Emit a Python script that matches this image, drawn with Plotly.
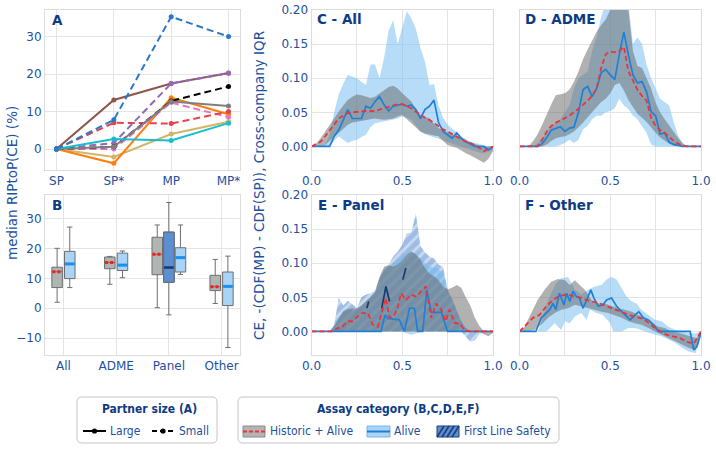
import plotly.graph_objects as go

W, H = 716, 453
OX, OY = 0, 0
FW, FH = W - OX, H - OY
FONT = "DejaVu Sans"
LFONT = "DejaVu Sans Condensed, Liberation Sans Narrow, DejaVu Sans"
TICK = "#22509e"
NAVY = "#0d3b85"

# ---------------- Panel A data ----------------
stages = ["SP", "SP*", "MP", "MP*"]
a_large_brown = [0, 13.1, 17.5, 20.3]
a_large_gray = [0, 0.6, 12.7, 11.5]
a_large_orange = [0, -3.8, 13.7, 9.3]
a_large_tan = [0, -2.1, 4.0, 7.3]
a_large_cyan = [0, 2.7, 2.3, 6.9]
a_small_blue = [0, 7.8, 35.3, 30.0]
a_small_purple = [0, 1.6, 17.5, 20.2]
a_small_black = [0, 0.6, 12.8, 16.7]
a_small_red = [0, 7.0, 6.8, 10.0]
a_small_pink = [0, 0.0, 12.4, 8.5]

# ---------------- Panel B data ----------------
b_categories = ["All", "ADME", "Panel", "Other"]
b_hist_lo = [2.0, 8.0, 0.2, 1.6]
b_hist_q1 = [6.9, 13.2, 11.2, 5.9]
b_hist_med = [12.2, 15.3, 18.0, 7.2]
b_hist_q3 = [13.7, 17.1, 23.7, 11.0]
b_hist_hi = [20.0, 17.3, 27.8, 16.3]
b_alive_lo = [6.9, 10.2, 11.3, -13.1]
b_alive_q1 = [9.9, 12.6, 12.1, 0.9]
b_alive_med = [14.8, 14.4, 16.9, 7.3]
b_alive_q3 = [19.0, 18.4, 20.2, 12.1]
b_alive_hi = [27.1, 19.1, 27.8, 17.4]
b_fls_stats = [-2.2, 8.7, 13.6, 25.4, 35.3]  # Panel: lo, q1, med, q3, hi

# ---------------- Panels C-F data ----------------
x_grid = [0.0, 0.025, 0.05, 0.075, 0.1, 0.125, 0.15, 0.175, 0.2, 0.225, 0.25, 0.275,
          0.3, 0.325, 0.35, 0.375, 0.4, 0.425, 0.45, 0.475, 0.5, 0.525, 0.55, 0.575,
          0.6, 0.625, 0.65, 0.675, 0.7, 0.725, 0.75, 0.775, 0.8, 0.825, 0.85, 0.875,
          0.9, 0.925, 0.95, 0.975, 1.0]

c_hist_hi = [0, .004, .012, .022, .032, .042, .051, .060, .068, .073, .076, .075, .073, .071, .073, .078, .083, .087, .089, .085, .078, .072, .066, .055, .046, .044, .041, .033, .027, .024, .020, .017, .015, .012, .010, .006, .003, .001, 0, 0, 0]
c_hist_lo = [0, 0, 0, .002, .007, .013, .020, .026, .032, .035, .037, .038, .039, .040, .041, .040, .039, .040, .041, .044, .046, .040, .034, .028, .022, .019, .017, .016, .015, .008, .002, 0, -.002, -.006, -.010, -.013, -.017, -.020, -.024, -.018, -.007]
c_hist_med = [0, .003, .007, .015, .024, .033, .041, .045, .049, .050, .051, .051, .052, .052, .052, .054, .056, .058, .061, .062, .062, .059, .056, .051, .046, .042, .039, .034, .029, .025, .022, .018, .015, .011, .007, .005, .002, -.002, -.007, -.004, 0]
c_alive_hi = [0, 0, 0, .003, .017, .050, .076, .092, .105, .102, .100, .095, .090, .120, .120, .100, .130, .170, .185, .150, .175, .198, .188, .172, .145, .124, .090, .091, .060, .042, .032, .026, .020, .015, .011, .007, .005, .003, .001, 0, 0]
c_alive_lo = [0, 0, 0, 0, 0, .008, .015, .010, .005, .008, .010, .014, .017, .028, .034, .036, .037, .038, .039, .041, .044, .042, .039, .030, .022, .018, .015, .013, .012, .009, .007, .004, .002, 0, -.002, -.004, -.007, -.009, -.010, -.008, -.005]
c_alive_med = [0, 0, 0, 0, 0, .015, .024, .039, .054, .041, .041, .041, .059, .056, .066, .073, .061, .052, .059, .061, .062, .059, .061, .054, .041, .054, .059, .068, .035, .022, .017, .012, .020, .012, .007, .003, 0, 0, 0, -.005, 0]

d_hist_hi = [0, 0, 0, .008, .018, .032, .048, .062, .075, .077, .078, .083, .095, .110, .128, .142, .155, .168, .178, .186, .200, .210, .210, .210, .200, .140, .118, .115, .100, .085, .064, .050, .040, .030, .020, .012, .004, 0, 0, 0, 0]
d_hist_lo = [0, 0, 0, 0, 0, 0, .003, .008, .012, .014, .015, .018, .022, .028, .035, .043, .050, .058, .065, .070, .078, .090, .093, .082, .068, .058, .048, .042, .036, .028, .020, .013, .008, .004, .001, 0, 0, 0, 0, 0, 0]
d_hist_med = [0, 0, 0, 0, 0, .010, .022, .030, .035, .038, .041, .045, .050, .055, .061, .067, .074, .085, .115, .135, .139, .138, .140, .146, .110, .097, .083, .074, .067, .042, .030, .024, .020, .014, .008, .004, .001, 0, 0, 0, 0]
d_alive_hi = [0, 0, 0, 0, .005, .012, .020, .030, .035, .040, .050, .060, .085, .100, .105, .110, .140, .160, .190, .210, .210, .210, .210, .210, .210, .150, .160, .150, .120, .100, .085, .070, .065, .060, .035, .015, .005, 0, 0, 0, 0]
d_alive_lo = [0, 0, 0, 0, 0, 0, 0, 0, 0, .002, .005, .010, .005, .010, .025, .030, .040, .045, .045, .050, .052, .056, .070, .060, .055, .045, .040, .030, .020, .003, 0, 0, 0, 0, 0, 0, 0, 0, 0, 0, 0]
d_alive_med = [0, 0, 0, 0, 0, .004, .013, .024, .026, .029, .022, .027, .028, .050, .083, .088, .073, .085, .108, .113, .105, .098, .135, .168, .134, .105, .093, .095, .080, .051, .045, .018, .020, .006, .003, .001, 0, 0, 0, 0, 0]

e_fls_hi = [0, 0, 0, 0, 0, .010, .049, .038, .045, .040, .034, .050, .054, .056, .060, .078, .092, .098, .110, .117, .127, .144, .145, .173, .125, .116, .110, .107, .098, .094, .061, .048, .030, .015, .005, 0, 0, 0, 0, 0, 0]
e_fls_lo = [0, 0, 0, 0, 0, 0, 0, 0, 0, 0, 0, 0, 0, 0, 0, 0, 0, 0, 0, 0, 0, 0, 0, 0, 0, 0, 0, 0, 0, 0, 0, 0, 0, 0, -.008, -.015, -.013, -.004, 0, 0, 0]
e_hist_hi = [0, 0, 0, 0, 0, .008, .020, .030, .033, .034, .034, .038, .044, .050, .058, .080, .095, .097, .095, .098, .104, .112, .117, .113, .105, .093, .085, .081, .075, .066, .062, .064, .068, .064, .050, .038, .020, .008, 0, 0, 0]
e_hist_lo = [0, 0, 0, 0, 0, 0, 0, 0, 0, 0, 0, 0, 0, 0, 0, 0, 0, 0, 0, 0, 0, 0, 0, 0, 0, 0, 0, 0, 0, 0, 0, 0, 0, 0, 0, 0, 0, 0, -.004, -.007, -.002]
e_alive_hi = [0, 0, 0, 0, 0, .005, .020, .028, .030, .030, .032, .036, .040, .048, .055, .075, .090, .095, .100, .105, .110, .115, .118, .112, .108, .100, .095, .094, .092, .085, .060, .045, .030, .015, .005, 0, 0, 0, 0, 0, 0]
e_alive_lo = [0, 0, 0, 0, 0, 0, 0, 0, 0, 0, 0, 0, 0, 0, 0, 0, 0, 0, 0, 0, 0, -.003, -.005, -.003, 0, 0, 0, 0, 0, 0, 0, 0, 0, 0, 0, 0, 0, 0, 0, 0, 0]
e_hist_med_x = [0, .116, .144, .17, .2, .227, .254, .28, .31, .337, .365, .387, .41, .43, .453, .471, .494, .52, .549, .576, .604, .63, .66, .687, .715, .74, .76, .79, .816, .843, .87, 1.0]
e_hist_med = [0, 0, .005, .007, .015, .015, .022, .027, .027, .010, .007, .027, .049, .020, .022, .032, .056, .046, .054, .051, .059, .066, .020, .041, .032, .015, .032, .012, .012, .002, 0, 0]
e_alive_med_x = [0, .383, .405, .42, .484, .512, .54, .567, .585, .613, .635, .66, .715, .733, .75, 1.0]
e_alive_med = [0, 0, .024, .019, .017, 0, .034, .034, 0, 0, .061, .028, .028, .015, 0, 0]
e_fls_med_x = [.305, .315, None, .387, .41, .43, None, .503, .52]
e_fls_med = [.034, .044, None, .034, .066, .044, None, .076, .093]

f_hist_hi_x = [0, .028, .065, .1, .138, .175, .212, .25, .277, .305, .332, .36, .397, .434, .47, .507, .544, .58, .618, .655, .69, .73, .766, .8, .84, .876, .913, .95, .975, 1.0]
f_hist_hi = [0, .007, .027, .046, .061, .073, .077, .075, .068, .075, .068, .061, .046, .041, .041, .037, .034, .032, .029, .024, .020, .012, .007, .005, 0, -.002, -.005, -.007, -.010, 0]
f_hist_lo_x = [0, .046, .083, .12, .157, .194, .23, .268, .305, .34, .378, .415, .452, .49, .526, .563, .6, .636, .672, .71, .747, .784, .82, .86, .9, .93, .97, 1.0]
f_hist_lo = [0, 0, .002, .010, .020, .027, .032, .034, .039, .037, .034, .032, .029, .027, .024, .020, .015, .012, .010, .005, 0, -.005, -.010, -.015, -.020, -.024, -.027, -.003]
f_hist_med_x = [0, .037, .074, .11, .148, .185, .22, .258, .295, .332, .37, .406, .443, .48, .517, .553, .59, .627, .664, .7, .738, .775, .812, .85, .886, .92, .96, 1.0]
f_hist_med = [0, .010, .020, .024, .037, .046, .052, .054, .052, .050, .046, .044, .041, .037, .033, .029, .026, .022, .020, .015, .007, 0, -.005, -.007, -.010, -.015, -.018, 0]
f_alive_hi_x = [0, .1, .12, .157, .2, .23, .268, .305, .34, .378, .415, .452, .48, .507, .535, .563, .59, .618, .645, .67, .71, .747, .784, .82, .86, .895, .93, .97, 1.0]
f_alive_hi = [0, 0, .012, .046, .070, .078, .080, .061, .054, .061, .066, .068, .076, .080, .076, .063, .051, .044, .041, .032, .024, .017, .015, .007, .002, 0, -.002, -.003, 0]
f_alive_lo_x = [0, .144, .157, .175, .194, .21, .23, .25, .277, .305, .34, .37, .388, .424, .46, .5, .517, .563, .6, .636, .672, .71, .747, .784, .82, .86, .895, .93, .97, 1.0]
f_alive_lo = [0, 0, .002, .007, .012, .007, .002, .015, .012, .022, .027, .017, .032, .027, .024, .012, 0, 0, .005, .005, .002, -.002, -.005, -.007, -.012, -.017, -.024, -.029, -.032, -.002]
f_alive_med_x = [0, .09, .12, .148, .166, .185, .2, .22, .245, .26, .277, .295, .314, .33, .35, .37, .393, .41, .434, .46, .48, .507, .535, .563, .59, .61, .636, .657, .683, .71, .738, .766, .94, .96, .978, 1.0]
f_alive_med = [0, 0, .020, .027, .032, .041, .032, .056, .039, .056, .044, .059, .051, .049, .034, .046, .061, .049, .037, .039, .046, .049, .037, .029, .022, .017, .024, .029, .020, .017, .010, 0, 0, -.027, -.022, -.002]

# ---------------- styles ----------------
GRAY_BAND = "rgba(100,100,100,0.5)"
BLUE_BAND = "rgba(110,185,240,0.5)"
BLUE_LINE = "#1f80d8"
RED = "#ec3339"

fig = go.Figure()

# Panel A
a_series = [
    (a_large_brown, "#8c564b", "solid"),
    (a_small_purple, "#9467bd", "7px,4px"),
    (a_large_tan, "#d4b469", "solid"),
    (a_large_orange, "#ff7f0e", "solid"),
    (a_small_pink, "#e377c2", "7px,4px"),
    (a_small_red, "#e8434b", "7px,4px"),
    (a_small_black, "#000000", "7px,4px"),
    (a_large_gray, "#7f7f7f", "solid"),
    (a_large_cyan, "#17becf", "solid"),
    (a_small_blue, "#2a78c6", "7px,4px"),
]
for vals, col, dash in a_series:
    fig.add_trace(go.Scatter(x=list(range(len(stages))), y=vals, mode="lines+markers",
                             line=dict(color=col, width=2, dash=dash),
                             marker=dict(color=col, size=5), xaxis="x", yaxis="y",
                             hoverinfo="skip"))

# Panel B
BOX_W = 0.2
hist_off = [-0.12, -0.12, -0.22, -0.12]
alive_off = [0.12, 0.12, 0.22, 0.12]


def add_box(pos, lo, q1, med, q3, hi, fill, medcol, meddash, medw):
    fig.add_trace(go.Box(x=[pos], lowerfence=[lo], q1=[q1], median=[med], q3=[q3],
                         upperfence=[hi], width=BOX_W, whiskerwidth=0.5,
                         fillcolor=fill, line=dict(color="#6e6e6e", width=1),
                         boxpoints=False, xaxis="x2", yaxis="y2", hoverinfo="skip"))
    fig.add_trace(go.Scatter(x=[pos - BOX_W / 2 + 0.01, pos + BOX_W / 2 - 0.01], y=[med, med],
                             mode="lines", line=dict(color=medcol, width=medw, dash=meddash),
                             xaxis="x2", yaxis="y2", hoverinfo="skip"))


for i in range(len(b_categories)):
    add_box(i + hist_off[i], b_hist_lo[i], b_hist_q1[i], b_hist_med[i], b_hist_q3[i],
            b_hist_hi[i], "#afb5b2", "#ff1a1a", "3px,2px", 3)
    add_box(i + alive_off[i], b_alive_lo[i], b_alive_q1[i], b_alive_med[i], b_alive_q3[i],
            b_alive_hi[i], "#a9d4f6", "#1e8ff0", "solid", 3)

# First line safety box (Panel)
lo, q1, med, q3, hi = b_fls_stats
fig.add_trace(go.Box(x=[2], lowerfence=[lo], q1=[q1], median=[med], q3=[q3], upperfence=[hi],
                     width=BOX_W, whiskerwidth=0.5, fillcolor="#5b8fd0",
                     line=dict(color="#6e6e6e", width=1), boxpoints=False,
                     xaxis="x2", yaxis="y2", hoverinfo="skip"))
fig.add_trace(go.Bar(x=[2], y=[q3 - q1], base=[q1], width=BOX_W,
                     marker=dict(color="#5b8fd0", line=dict(color="#1d3f78", width=1),
                                 pattern=dict(shape="/", fgcolor="#1d3f78", size=6,
                                              solidity=0.3, fillmode="overlay")),
                     xaxis="x2", yaxis="y2", hoverinfo="skip"))
fig.add_trace(go.Scatter(x=[2 - BOX_W / 2 + 0.01, 2 + BOX_W / 2 - 0.01], y=[med, med],
                         mode="lines", line=dict(color="#1a3570", width=2.5),
                         xaxis="x2", yaxis="y2", hoverinfo="skip"))


def band(xh, hi, xl, lo, color, ax, ay, pattern=None):
    kw = {}
    if pattern:
        kw["fillpattern"] = pattern
    fig.add_trace(go.Scatter(x=list(xh) + list(xl)[::-1], y=list(hi) + list(lo)[::-1],
                             fill="toself", fillcolor=color, mode="lines",
                             line=dict(width=0, color=color), xaxis=ax, yaxis=ay,
                             hoverinfo="skip", **kw))


def line(x, y, color, dash, width, ax, ay):
    fig.add_trace(go.Scatter(x=x, y=y, mode="lines", line=dict(color=color, width=width, dash=dash),
                             xaxis=ax, yaxis=ay, hoverinfo="skip", connectgaps=False))


# Panel C
band(x_grid, c_alive_hi, x_grid, c_alive_lo, BLUE_BAND, "x3", "y3")
band(x_grid, c_hist_hi, x_grid, c_hist_lo, GRAY_BAND, "x3", "y3")
line(x_grid, c_alive_med, BLUE_LINE, "solid", 1.7, "x3", "y3")
line(x_grid, c_hist_med, RED, "5px,3px", 1.8, "x3", "y3")

# Panel D
band(x_grid, d_alive_hi, x_grid, d_alive_lo, BLUE_BAND, "x4", "y4")
band(x_grid, d_hist_hi, x_grid, d_hist_lo, GRAY_BAND, "x4", "y4")
line(x_grid, d_alive_med, BLUE_LINE, "solid", 1.7, "x4", "y4")
line(x_grid, d_hist_med, RED, "5px,3px", 1.8, "x4", "y4")

# Panel E
band(x_grid, e_fls_hi, x_grid, e_fls_lo, "rgba(95,145,210,0.6)", "x5", "y5",
     pattern=dict(shape="/", bgcolor="rgba(95,145,210,0.6)", fgcolor="rgba(255,255,255,0.9)",
                  size=8, solidity=0.35))
band(x_grid, e_alive_hi, x_grid, e_alive_lo, BLUE_BAND, "x5", "y5")
band(x_grid, e_hist_hi, x_grid, e_hist_lo, GRAY_BAND, "x5", "y5")
line(e_fls_med_x, e_fls_med, "#1a3a72", "solid", 1.7, "x5", "y5")
line(e_alive_med_x, e_alive_med, BLUE_LINE, "solid", 1.7, "x5", "y5")
line(e_hist_med_x, e_hist_med, RED, "5px,3px", 1.8, "x5", "y5")

# Panel F
band(f_alive_hi_x, f_alive_hi, f_alive_lo_x, f_alive_lo, BLUE_BAND, "x6", "y6")
band(f_hist_hi_x, f_hist_hi, f_hist_lo_x, f_hist_lo, GRAY_BAND, "x6", "y6")
line(f_alive_med_x, f_alive_med, BLUE_LINE, "solid", 1.7, "x6", "y6")
line(f_hist_med_x, f_hist_med, RED, "5px,3px", 1.8, "x6", "y6")


# ---------------- coordinates (window px -> paper) ----------------
def P(x, y):
    return (x - OX) / FW, 1 - (y - OY) / FH


def xdom(a, b):
    return [P(a, 0)[0], P(b, 0)[0]]


def ydom(top, bottom):
    return [P(0, bottom)[1], P(0, top)[1]]


def axis(domain, anchor, **kw):
    d = dict(domain=domain, anchor=anchor, showline=True, mirror=True, linecolor="#dcdcdc",
             linewidth=1, showgrid=True, gridcolor="#e4e4e4", gridwidth=1, zeroline=False,
             ticks="", tickfont=dict(family=FONT, size=12, color=TICK), fixedrange=True,
             automargin=False)
    d.update(kw)
    return d


xA = xdom(45, 240)
xC = xdom(311.5, 493)
xD = xdom(519.5, 701)
yT = ydom(10, 170)
yB = ydom(195, 355)
xt = [0, 0.25, 0.5, 0.75, 1.0]
xtt = ["0.0", "", "0.5", "", "1.0"]
yt = [0, 0.05, 0.10, 0.15, 0.20]
ytt = ["0.00", "0.05", "0.10", "0.15", "0.20"]
YR = [-0.0345, 0.2]

fig.update_layout(
    width=FW, height=FH, margin=dict(l=0, r=0, t=0, b=0, pad=0),
    paper_bgcolor="white", plot_bgcolor="white", showlegend=False,
    boxmode="overlay", barmode="overlay",
    xaxis=axis(xA, "y", range=[-0.2, 3.2], tickvals=[0, 1, 2, 3], ticktext=stages),
    yaxis=axis(yT, "x", range=[-5.6, 37.1], tickvals=[0, 10, 20, 30]),
    xaxis2=axis(xA, "y2", range=[-0.35, 3.35], tickvals=[0, 1, 2, 3], ticktext=b_categories),
    yaxis2=axis(yB, "x2", range=[-15.6, 37.8], tickvals=[-10, 0, 10, 20, 30]),
    xaxis3=axis(xC, "y3", range=[0, 1], tickvals=xt, ticktext=xtt),
    yaxis3=axis(yT, "x3", range=YR, tickvals=yt, ticktext=ytt),
    xaxis4=axis(xD, "y4", range=[0, 1], tickvals=xt, ticktext=xtt),
    yaxis4=axis(yT, "x4", range=YR, tickvals=yt, showticklabels=False),
    xaxis5=axis(xC, "y5", range=[0, 1], tickvals=xt, ticktext=xtt),
    yaxis5=axis(yB, "x5", range=YR, tickvals=yt, ticktext=ytt),
    xaxis6=axis(xD, "y6", range=[0, 1], tickvals=xt, ticktext=xtt),
    yaxis6=axis(yB, "x6", range=YR, tickvals=yt, showticklabels=False),
)

# ---------------- annotations ----------------
anns = []


def text(t, x, y, size, color, bold=False, xanchor="left", angle=0, family=FONT):
    px_, py_ = P(x, y)
    anns.append(dict(text=("<b>%s</b>" % t) if bold else t, x=px_, y=py_, xref="paper",
                     yref="paper", showarrow=False, xanchor=xanchor, yanchor="middle",
                     textangle=angle, font=dict(family=family, size=size, color=color)))


text("A", 50, 20, 13.5, NAVY, bold=True)
text("B", 50, 205, 13.5, NAVY, bold=True)
text("C - All", 315, 19, 13.5, NAVY, bold=True)
text("D - ADME", 523, 19, 13.5, NAVY, bold=True)
text("E - Panel", 316, 205, 13.5, NAVY, bold=True)
text("F - Other", 523, 205, 13.5, NAVY, bold=True)
text("median RIPtoP(CE) (%)", 12, 183, 13.5, TICK, xanchor="center", angle=-90)
text("CE, -(CDF(MP) - CDF(SP)), Cross-company IQR", 259, 186, 13.5, TICK,
     xanchor="center", angle=-90)

# legend texts
text("Partner size (A)", 149, 409, 12, NAVY, bold=True, xanchor="center", family=LFONT)
text("Large", 108, 431, 12, TICK, family=LFONT)
text("Small", 177, 431, 12, TICK, family=LFONT)
text("Assay category (B,C,D,E,F)", 399, 409, 12, NAVY, bold=True, xanchor="center", family=LFONT)
text("Historic + Alive", 268, 431, 12, TICK, family=LFONT)
text("Alive", 392, 431, 12, TICK, family=LFONT)
text("First Line Safety", 462, 431, 12, TICK, family=LFONT)

# ---------------- legend frames and keys ----------------
shapes = []


def rrect(x0, y0, x1, y1, r):
    def f(x, y):
        a, b = P(x, y)
        return "%.5f,%.5f" % (a, b)
    return ("M%s L%s Q%s %s L%s Q%s %s L%s Q%s %s L%s Q%s %s Z" % (
        f(x0 + r, y0), f(x1 - r, y0), f(x1, y0), f(x1, y0 + r), f(x1, y1 - r),
        f(x1, y1), f(x1 - r, y1), f(x0 + r, y1), f(x0, y1), f(x0, y1 - r),
        f(x0, y0 + r), f(x0, y0), f(x0 + r, y0)))


for bx in [(77, 397, 217, 443), (238, 397, 559, 443)]:
    shapes.append(dict(type="path", path=rrect(*bx, 5), xref="paper", yref="paper",
                       line=dict(color="#c4c4c4", width=1), fillcolor="white", layer="below"))


def seg(x0, y0, x1, y1, color, width, dash="solid"):
    a0, b0 = P(x0, y0)
    a1, b1 = P(x1, y1)
    shapes.append(dict(type="line", x0=a0, y0=b0, x1=a1, y1=b1, xref="paper", yref="paper",
                       line=dict(color=color, width=width, dash=dash)))


def rect(x0, y0, x1, y1, fill, lc):
    a0, b0 = P(x0, y1)
    a1, b1 = P(x1, y0)
    shapes.append(dict(type="rect", x0=a0, y0=b0, x1=a1, y1=b1, xref="paper", yref="paper",
                       fillcolor=fill, line=dict(color=lc, width=1)))


def dot(x, y, r, color):
    a0, b0 = P(x - r, y + r)
    a1, b1 = P(x + r, y - r)
    shapes.append(dict(type="circle", x0=a0, y0=b0, x1=a1, y1=b1, xref="paper", yref="paper",
                       fillcolor=color, line=dict(color=color, width=0)))


seg(83, 431, 106, 431, "black", 2)
dot(94.5, 431, 2.6, "black")
seg(152, 431, 174, 431, "black", 2, "5px,3px")
dot(163, 431, 2.6, "black")

rect(243, 426, 265, 437, "#b4b4b4", "#8a8a8a")
seg(243, 431.5, 265, 431.5, RED, 2, "4px,2px")
rect(367, 426, 390, 437, "#a9d4f6", "#7ab6e6")
seg(367, 431.5, 390, 431.5, BLUE_LINE, 2)
rect(437, 426, 459, 437, "#5b8fd0", "#1d3f78")
for k in [0, 5, 10, 15]:
    xe = min(437 + k + 7, 459)
    seg(437 + k, 437, xe, 437 - (xe - (437 + k)) * 11 / 7, "#1d3f78", 1.6)

fig.update_layout(annotations=anns, shapes=shapes)
# remove the default 8px page margin so the figure sits at the window's top-left corner
fig.write_html("out.html", config={"displayModeBar": False},
               post_script="document.body.style.margin='0';")
